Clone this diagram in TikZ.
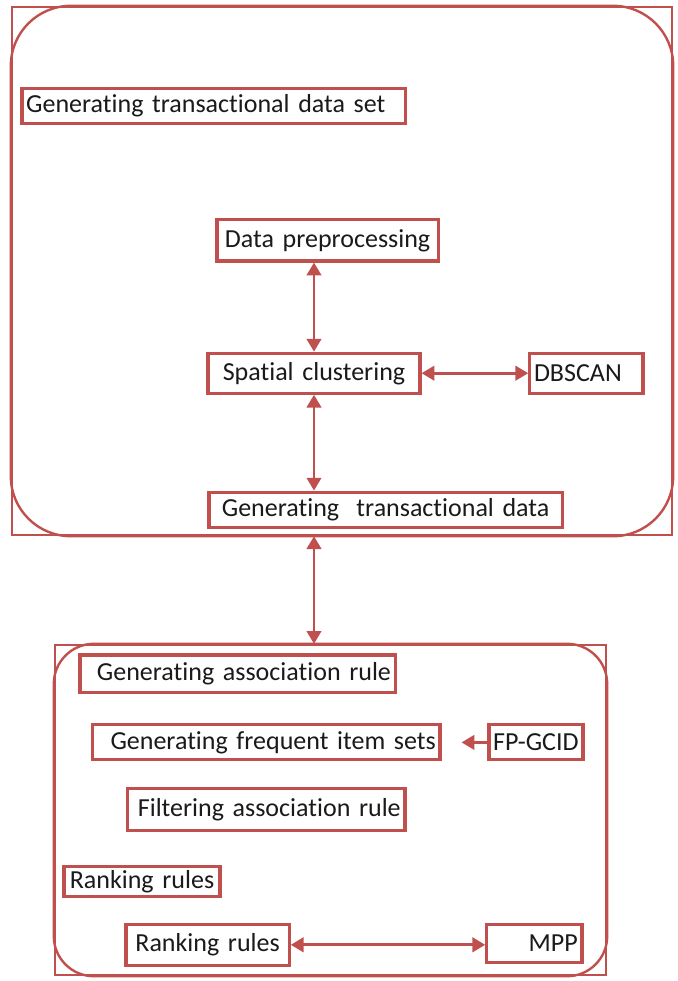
\documentclass[tikz,border=0pt]{standalone}
\usepackage{fontspec}
\setmainfont{Carlito}[Ligatures={NoCommon}]
\usepackage{tikz}
\usetikzlibrary{positioning,arrows.meta}
\definecolor{sdline}{HTML}{C0504D}
\definecolor{sdtext}{HTML}{1A1A1A}

\begin{document}
\begin{tikzpicture}[
  font=\fontsize{18.5}{22}\selectfont,
  grp/.style={draw=sdline, line width=1.7pt, inner sep=0pt},
  box/.style={draw=sdline, line width=2.2pt, fill=white, text=sdtext,
              inner xsep=3pt, inner ysep=0pt, align=#1},
  box/.default=center,
  dbl/.style={{Triangle[length=3.2mm,width=3.6mm]}-{Triangle[length=3.2mm,width=3.6mm]},
              line width=2pt, draw=sdline},
  arr/.style={-{Triangle[length=3.2mm,width=3.6mm]}, line width=2pt, draw=sdline},
]
  \useasboundingbox (0,0) rectangle (16.95,-24.525);

  \node[grp, minimum width=16.5cm, minimum height=13.2cm] (topgrp) at (8.55,-6.775) {};
  \draw[grp, rounded corners=1.5cm] (topgrp.north west) rectangle (topgrp.south east);
  \node[grp, minimum width=13.775cm, minimum height=8.25cm] (botgrp) at (8.2625,-20.25) {};
  \draw[grp, rounded corners=1.0cm] (botgrp.north west) rectangle (botgrp.south east);

  \node[box=left, text width=9.37cm, minimum height=0.875cm] (gtds) at (5.34,-2.64)
    {Generating transactional data set};
  \node[box, text width=5.32cm, minimum height=1.03cm] (prep) at (8.19,-6.01)
    {Data preprocessing};
  \node[box, text width=5.09cm, minimum height=1.0cm] (spat) at (7.85,-9.33)
    {Spatial clustering};
  \node[box=left, text width=2.62cm, minimum height=1.0cm] (dbs) at (14.66,-9.33)
    {DBSCAN};
  \node[box, text width=8.62cm, minimum height=0.875cm] (gtd) at (9.64,-12.74)
    {Generating\ \ transactional data};

  \node[box=right, text width=7.67cm, minimum height=0.93cm] (gar) at (5.94,-16.84)
    {Generating association rule};
  \node[box=right, text width=8.47cm, minimum height=0.875cm] (gfis) at (6.66,-18.56)
    {Generating frequent item sets};
  \node[box=left, text width=2.14cm, minimum height=0.875cm] (fp) at (13.4,-18.56)
    {FP-GCID};
  \node[box=right, text width=6.72cm, minimum height=1.05cm] (far) at (6.66,-20.23)
    {Filtering association rule};
  \node[box, text width=3.69cm, minimum height=0.75cm] (rrh) at (3.55,-22.03)
    {Ranking rules};
  \node[box, text width=3.87cm, minimum height=1.03cm] (rr) at (5.19,-23.62)
    {Ranking rules};
  \node[box=right, text width=2.17cm, minimum height=0.95cm] (mpp) at (13.36,-23.58)
    {MPP\hspace{0.3cm}};

  \draw[dbl] (spat.north) -- (spat.north |- prep.south);
  \draw[dbl] (spat.east) -- (dbs.west);
  \draw[dbl] (spat.south) -- (spat.south |- gtd.north);
  \draw[dbl] (topgrp.south -| spat) -- (botgrp.north -| spat);
  \draw[arr, shorten >=0.5cm] (fp.west) -- (gfis.east);
  \draw[dbl] (rr.east) -- (rr.east -| mpp.west);
\end{tikzpicture}
\end{document}
